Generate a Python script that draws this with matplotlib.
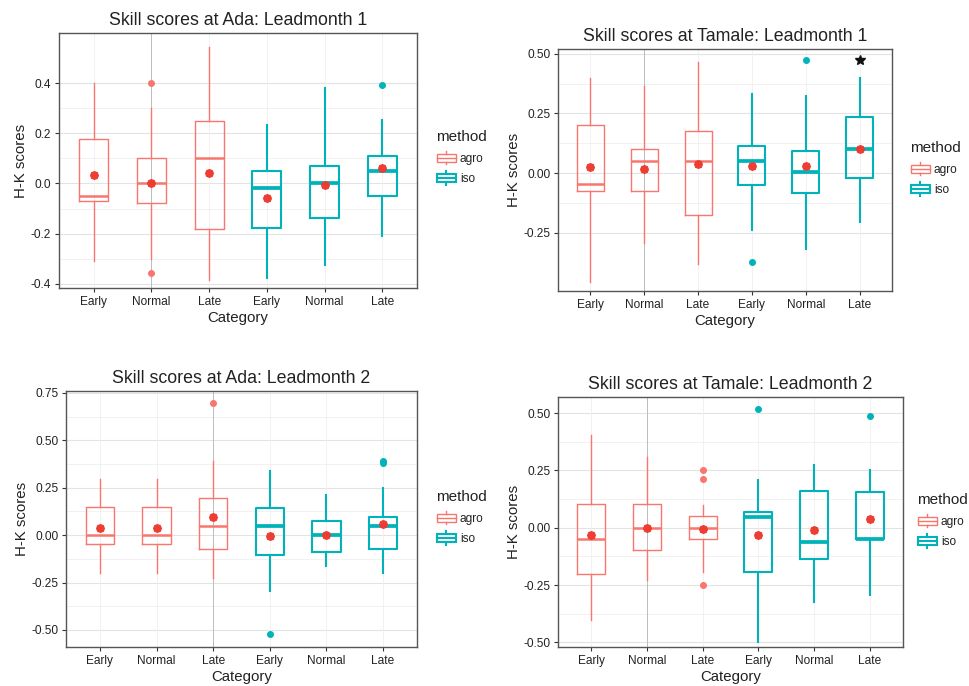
import matplotlib
matplotlib.use("Agg")
import matplotlib.pyplot as plt
from matplotlib.legend_handler import HandlerBase
from matplotlib.patches import Patch, Rectangle
from matplotlib.lines import Line2D

plt.rcParams["font.family"] = ["Liberation Sans", "DejaVu Sans"]

# ---------------------------------------------------------------- data
categories = ["Early", "Normal", "Late", "Early", "Normal", "Late"]
methods = ["agro", "agro", "agro", "iso", "iso", "iso"]

# each row: whisker low, Q1, median, Q3, whisker high
ada1_box = [
    [-0.310, -0.069, -0.052, 0.177, 0.400],
    [-0.300, -0.078, 0.000, 0.100, 0.300],
    [-0.384, -0.182, 0.101, 0.251, 0.546],
    [-0.377, -0.179, -0.019, 0.048, 0.234],
    [-0.324, -0.138, 0.000, 0.070, 0.380],
    [-0.211, -0.052, 0.050, 0.110, 0.254],
]
ada1_mean = [0.035, 0.000, 0.041, -0.058, -0.005, 0.061]
ada1_out = [[], [0.400, -0.357], [], [], [], [0.392]]

tamale1_box = [
    [-0.456, -0.077, -0.046, 0.200, 0.400],
    [-0.293, -0.077, 0.050, 0.100, 0.365],
    [-0.379, -0.176, 0.050, 0.178, 0.465],
    [-0.239, -0.049, 0.049, 0.112, 0.330],
    [-0.316, -0.084, 0.003, 0.094, 0.323],
    [-0.204, -0.021, 0.100, 0.235, 0.400],
]
tamale1_mean = [0.024, 0.017, 0.038, 0.028, 0.028, 0.103]
tamale1_out = [[], [], [], [-0.372], [0.475], []]
tamale1_flag = [None, None, None, None, None, 0.473]

ada2_box = [
    [-0.200, -0.049, 0.000, 0.149, 0.297],
    [-0.200, -0.049, 0.000, 0.149, 0.297],
    [-0.227, -0.073, 0.049, 0.198, 0.393],
    [-0.297, -0.105, 0.049, 0.145, 0.336],
    [-0.161, -0.091, 0.000, 0.073, 0.210],
    [-0.200, -0.073, 0.049, 0.098, 0.248],
]
ada2_mean = [0.038, 0.038, 0.093, -0.003, 0.003, 0.058]
ada2_out = [[], [], [0.696], [-0.521], [], [0.393, 0.381]]

tamale2_box = [
    [-0.404, -0.200, -0.048, 0.102, 0.403],
    [-0.230, -0.099, 0.000, 0.102, 0.308],
    [-0.193, -0.051, 0.000, 0.049, 0.097],
    [-0.500, -0.193, 0.047, 0.068, 0.206],
    [-0.324, -0.135, -0.063, 0.160, 0.272],
    [-0.295, -0.050, -0.048, 0.154, 0.250],
]
tamale2_mean = [-0.033, 0.000, -0.004, -0.031, -0.009, 0.039]
tamale2_out = [[], [], [0.250, 0.211, -0.249], [0.519], [], [0.485]]

ticks_ada1 = [-0.4, -0.2, 0.0, 0.2, 0.4]
ticks_tam1 = [-0.25, 0.0, 0.25, 0.50]
ticks_ada2 = [-0.50, -0.25, 0.0, 0.25, 0.50, 0.75]
ticks_tam2 = [-0.50, -0.25, 0.0, 0.25, 0.50]

# ---------------------------------------------------------------- style
COLORS = {"agro": "#F8766D", "iso": "#00B3BA"}
LW = {"agro": 1.0, "iso": 1.5}
MEAN_COLOR = "#EE3B30"
TEXT = "#222222"

W, H = 970, 686
fig = plt.figure(figsize=(W / 100, H / 100), dpi=100)
fig.patch.set_facecolor("white")


def frac(left, top, right, bottom):
    return [left / W, 1 - bottom / H, (right - left) / W, (bottom - top) / H]


class BoxKey(HandlerBase):
    """Legend key drawn as a miniature box-and-whisker glyph."""

    def create_artists(self, legend, orig_handle, xdescent, ydescent,
                       width, height, fontsize, trans):
        c = orig_handle.get_edgecolor()
        lw = orig_handle.get_linewidth()
        x0, y0 = -xdescent, -ydescent
        rect = Rectangle((x0 + 0.5, y0 + 0.2 * height), width - 1, 0.6 * height,
                         fill=False, ec=c, lw=lw, transform=trans)
        mid = Line2D([x0 + 0.5, x0 + width - 0.5], [y0 + 0.5 * height] * 2,
                     color=c, lw=lw, transform=trans)
        up = Line2D([x0 + width / 2] * 2, [y0 + 0.8 * height, y0 + height],
                    color=c, lw=lw, transform=trans)
        dn = Line2D([x0 + width / 2] * 2, [y0, y0 + 0.2 * height],
                    color=c, lw=lw, transform=trans)
        return [rect, mid, up, dn]


def panel(rect, title, box, means, outliers, yticks, ylim, legend_xy,
          vline_at=None, flags=None):
    ax = fig.add_axes(rect)
    ax.set_facecolor("white")
    pos = list(range(1, len(categories) + 1))

    # faint background grid
    for t in yticks:
        ax.axhline(t, color="#E3E3E3", lw=0.8, zorder=0)
    for a, b in zip(yticks[:-1], yticks[1:]):
        ax.axhline((a + b) / 2, color="#F0F0F0", lw=0.6, zorder=0)
    for p in pos:
        ax.axvline(p, color="#EFEFEF", lw=0.6, zorder=0)
    if vline_at is not None:
        ax.axvline(vline_at, color="#BDBDBD", lw=0.7, zorder=0)

    for i, (row, m) in enumerate(zip(box, methods)):
        lo, q1, med, q3, hi = row
        stats = [dict(whislo=lo, q1=q1, med=med, q3=q3, whishi=hi,
                      fliers=outliers[i])]
        c = COLORS[m]
        ax.bxp(stats, positions=[pos[i]], widths=0.5, showcaps=False,
               showfliers=True, manage_ticks=False,
               boxprops=dict(color=c, lw=LW[m]),
               whiskerprops=dict(color=c, lw=LW[m]),
               medianprops=dict(color=c, lw=LW[m] * 1.8, solid_capstyle="butt"),
               flierprops=dict(marker="o", markersize=4.0, markerfacecolor=c,
                               markeredgecolor=c, linestyle="none"),
               zorder=2)
        ax.plot(pos[i], means[i], marker="o", ms=5.2, color=MEAN_COLOR,
                mec=MEAN_COLOR, zorder=4, alpha=0.95)
        ax.plot(pos[i], means[i], marker=(8, 2, 0), ms=6.5, color=MEAN_COLOR,
                mew=0.8, zorder=4, alpha=0.7)
        if flags is not None and flags[i] is not None:
            ax.plot(pos[i], flags[i], marker="*", ms=7, color="#111111",
                    mec="#111111", zorder=5)

    ax.set_xlim(0.4, len(categories) + 0.6)
    ax.set_ylim(*ylim)
    ax.set_xticks(pos)
    ax.set_xticklabels(categories)
    ax.set_yticks(yticks)
    if any(abs(t * 10 - round(t * 10)) > 1e-9 for t in yticks):
        ax.set_yticklabels([f"{t:.2f}" for t in yticks])
    else:
        ax.set_yticklabels([f"{t:.1f}" for t in yticks])
    ax.tick_params(axis="both", labelsize=8.6, colors="#333333",
                   labelcolor=TEXT, length=3, width=0.8, pad=2.5)
    for s in ax.spines.values():
        s.set_color("#555555")
        s.set_linewidth(1.0)
    ax.set_title(title, fontsize=12.8, color=TEXT, pad=6)
    ax.set_xlabel("Category", fontsize=10.8, color=TEXT, labelpad=2.5)
    ax.set_ylabel("H-K scores", fontsize=10.8, color=TEXT, labelpad=2)

    handles = [Patch(edgecolor=COLORS[k], facecolor="none", linewidth=LW[k])
               for k in ("agro", "iso")]
    leg = ax.legend(handles, ["agro", "iso"], title="method",
                    handler_map={Patch: BoxKey()},
                    loc="upper left",
                    bbox_to_anchor=(legend_xy[0] / W, 1 - legend_xy[1] / H),
                    bbox_transform=fig.transFigure, frameon=False,
                    fontsize=8.6, title_fontsize=11.0, handlelength=1.7,
                    handleheight=1.35, handletextpad=0.3, labelspacing=0.55,
                    borderpad=0, borderaxespad=0)
    leg._legend_box.align = "left"
    leg._legend_box.sep = 5
    for t in leg.get_texts():
        t.set_color(TEXT)
    leg.get_title().set_color(TEXT)
    return ax


panel(frac(59, 33, 417, 288), "Skill scores at Ada: Leadmonth 1",
      ada1_box, ada1_mean, ada1_out, ticks_ada1, (-0.417, 0.60),
      (436, 130), vline_at=2)
panel(frac(558, 49, 892, 291), "Skill scores at Tamale: Leadmonth 1",
      tamale1_box, tamale1_mean, tamale1_out, ticks_tam1, (-0.494, 0.52),
      (910, 141), vline_at=2, flags=tamale1_flag)
panel(frac(66, 391, 417, 647), "Skill scores at Ada: Leadmonth 2",
      ada2_box, ada2_mean, ada2_out, ticks_ada2, (-0.59, 0.76),
      (436, 490), vline_at=3)
panel(frac(558, 397, 903, 647), "Skill scores at Tamale: Leadmonth 2",
      tamale2_box, tamale2_mean, tamale2_out, ticks_tam2, (-0.52, 0.57),
      (917, 493), vline_at=2)

fig.savefig("out.png", dpi=100, facecolor="white")
